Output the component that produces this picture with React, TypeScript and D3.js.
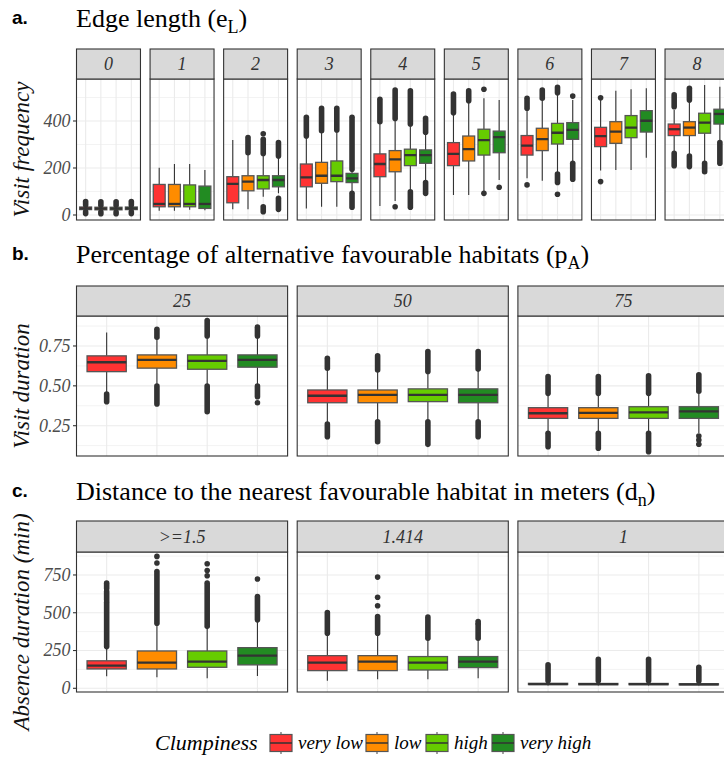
import React from "react";
import * as d3 from "d3";

// ---------- DATA ----------
const clumpiness = ["very low", "low", "high", "very high"];
const fills = ["#FF3333", "#FF8C00", "#66CC00", "#228B22"];

// Panel a: Edge length (e_L) -> Visit frequency
const edgeFacets = ["0", "1", "2", "3", "4", "5", "6", "7", "8"];
// [lower whisker, q1, median, q3, upper whisker] per clumpiness level
const edgeStats: number[][][] = [
  [[16, 23, 28, 34, 40], [15, 22, 27, 33, 39], [15, 22, 27, 33, 39], [16, 23, 28, 34, 40]],
  [[18, 35, 47, 130, 201], [18, 35, 47, 130, 217], [22, 35, 47, 128, 217], [20, 28, 47, 123, 191]],
  [[24, 52, 132, 163, 319], [24, 103, 142, 167, 258], [78, 111, 149, 167, 252], [92, 120, 149, 167, 245]],
  [[28, 120, 160, 217, 330], [35, 135, 167, 224, 355], [35, 142, 167, 230, 358], [99, 138, 156, 177, 190]],
  [[38, 163, 217, 260, 390], [60, 184, 237, 274, 405], [103, 210, 255, 280, 382], [142, 220, 255, 277, 345]],
  [[85, 210, 260, 308, 430], [85, 230, 280, 336, 480], [99, 255, 319, 365, 497], [149, 265, 331, 357, 489]],
  [[156, 255, 295, 338, 450], [146, 274, 323, 369, 490], [180, 302, 350, 390, 515], [227, 322, 362, 393, 489]],
  [[189, 291, 336, 373, 489], [191, 305, 355, 397, 529], [191, 329, 372, 423, 535], [244, 353, 401, 444, 539]],
  [[270, 338, 365, 387, 447], [260, 338, 372, 397, 480], [227, 348, 393, 433, 553], [312, 387, 430, 450, 546]],
];
// dense runs of outliers [from, to]; a single point has from == to
const edgeOutliers: number[][][][] = [
  [[[42, 57], [6, 14]], [[41, 56], [5, 13]], [[41, 56], [5, 13]], [[42, 57], [6, 14]]],
  [[], [], [], []],
  [[], [[265, 330]], [[262, 322], [346, 346], [14, 35]], [[251, 308], [24, 71]]],
  [[[336, 416]], [[359, 454]], [[362, 454]], [[195, 416], [33, 92]]],
  [[[397, 492]], [[411, 532], [35, 35]], [[387, 529], [33, 99]], [[352, 411], [92, 138]]],
  [[[435, 515]], [[486, 529]], [[535, 535], [92, 92]], [[118, 118]]],
  [[[454, 497], [128, 128]], [[497, 532]], [[520, 543], [138, 174], [88, 88]], [[506, 506], [152, 220]]],
  [[[499, 499], [142, 142]], [], [], []],
  [[[461, 511], [210, 262]], [[489, 539], [206, 251]], [[184, 220]], [[220, 308]]],
];
const edgeTicks = [0, 200, 400];
const edgeMinor = [100, 300, 500];

// Panel b: Percentage of alternative favourable habitats (p_A) -> Visit duration
const paFacets = ["25", "50", "75"];
const paStats: number[][][] = [
  [[0.453, 0.589, 0.648, 0.688, 0.834], [0.506, 0.611, 0.663, 0.694, 0.8], [0.506, 0.604, 0.656, 0.694, 0.8], [0.506, 0.617, 0.663, 0.694, 0.8]],
  [[0.269, 0.394, 0.438, 0.474, 0.6], [0.281, 0.394, 0.443, 0.474, 0.59], [0.281, 0.401, 0.443, 0.481, 0.585], [0.285, 0.394, 0.443, 0.481, 0.595]],
  [[0.212, 0.296, 0.328, 0.363, 0.445], [0.212, 0.296, 0.33, 0.363, 0.445], [0.212, 0.296, 0.334, 0.369, 0.445], [0.205, 0.296, 0.34, 0.369, 0.455]],
];
const paOutliers: number[][][][] = [
  [[[0.401, 0.449]], [[0.805, 0.855], [0.386, 0.499]], [[0.813, 0.909], [0.338, 0.499]], [[0.813, 0.868], [0.432, 0.499], [0.394, 0.394]]],
  [[[0.611, 0.673], [0.181, 0.26]], [[0.6, 0.688], [0.15, 0.275]], [[0.59, 0.715], [0.133, 0.275]], [[0.605, 0.715], [0.181, 0.275]]],
  [[[0.453, 0.558], [0.118, 0.202]], [[0.453, 0.558], [0.109, 0.202]], [[0.453, 0.563], [0.087, 0.202]], [[0.466, 0.569], [0.185, 0.185], [0.16, 0.16], [0.134, 0.134]]],
];
const paTicks = [0.25, 0.5, 0.75];
const paMinor = [0.125, 0.375, 0.625, 0.875];

// Panel c: Distance to nearest favourable habitat (d_n) -> Absence duration (min)
const dnFacets = [">=1.5", "1.414", "1"];
const dnStats: number[][][] = [
  [[80, 128, 150, 182, 265], [73, 128, 170, 247, 426], [66, 139, 176, 247, 408], [82, 155, 216, 269, 442]],
  [[50, 117, 170, 216, 353], [60, 117, 176, 216, 353], [60, 121, 170, 210, 320], [66, 137, 176, 210, 320]],
  [[18, 25, 28, 33, 45], [18, 24, 27, 32, 45], [18, 24, 27, 32, 45], [18, 23, 26, 30, 42]],
];
const dnOutliers: number[][][][] = [
  [[[276, 570], [585, 640], [660, 696]], [[430, 773], [829, 829], [873, 873]], [[410, 696], [745, 745], [780, 780], [824, 824]], [[453, 607], [723, 723]]],
  [[[365, 501]], [[365, 475], [546, 546], [603, 603], [736, 736]], [[331, 471]], [[331, 420], [430, 442]]],
  [[[50, 155]], [[50, 192]], [[50, 192]], [[48, 139]]],
];
const dnTicks = [0, 250, 500, 750];
const dnMinor = [125, 375, 625, 875];

// ---------- LAYOUT ----------
const W = 724;
const H = 758;
const plotLeft = 76.5;
const plotRight = 729;
const gap = 9.6;
const serif = "'Liberation Serif', 'Times New Roman', serif";
const sans = "'Liberation Sans', Arial, sans-serif";

type RowProps = {
  facets: string[];
  stats: number[][][];
  outliers: number[][][][];
  domain: [number, number];
  ticks: number[];
  minor: number[];
  fmt: (v: number) => string;
  stripTop: number;
  stripBottom: number;
  panelBottom: number;
  yTitle: string;
  ptR: number;
};

function FacetRow(p: RowProps) {
  const n = p.facets.length;
  const fw = (plotRight - plotLeft - gap * (n - 1)) / n;
  const y = d3.scaleLinear().domain(p.domain).range([p.panelBottom, p.stripBottom]);
  const x = d3
    .scalePoint<string>()
    .domain(clumpiness)
    .range([0, fw])
    .padding(0.6);
  const step = x.step();
  const bw = step * 0.78;
  const clipBase = "clip-" + p.yTitle.replace(/[^a-z]/gi, "");
  const midY = (p.stripBottom + p.panelBottom) / 2;
  return (
    <g>
      {p.facets.map((f, fi) => {
        const x0 = plotLeft + fi * (fw + gap);
        const cid = clipBase + fi;
        return (
          <g key={f} transform={`translate(${x0},0)`}>
            <clipPath id={cid}>
              <rect x={0} y={p.stripBottom} width={fw} height={p.panelBottom - p.stripBottom} />
            </clipPath>
            <rect x={0} y={p.stripBottom} width={fw} height={p.panelBottom - p.stripBottom} fill="#fff" />
            {p.minor.map((t) => (
              <line key={"m" + t} x1={0} x2={fw} y1={y(t)} y2={y(t)} stroke="#EBEBEB" strokeWidth={0.6} />
            ))}
            {p.ticks.map((t) => (
              <line key={"t" + t} x1={0} x2={fw} y1={y(t)} y2={y(t)} stroke="#EBEBEB" strokeWidth={1.1} />
            ))}
            {clumpiness.map((c) => (
              <line key={"v" + c} x1={x(c)} x2={x(c)} y1={p.stripBottom} y2={p.panelBottom} stroke="#EBEBEB" strokeWidth={1.1} />
            ))}
            <g clipPath={`url(#${cid})`}>
              {clumpiness.map((c, ci) => {
                const s = p.stats[fi][ci];
                const cx = x(c) as number;
                return (
                  <g key={c}>
                    <line x1={cx} x2={cx} y1={y(s[0])} y2={y(s[1])} stroke="#333" strokeWidth={1.1} />
                    <line x1={cx} x2={cx} y1={y(s[3])} y2={y(s[4])} stroke="#333" strokeWidth={1.1} />
                    <rect
                      x={cx - bw / 2}
                      y={y(s[3])}
                      width={bw}
                      height={Math.max(0.5, y(s[1]) - y(s[3]))}
                      fill={fills[ci]}
                      stroke="#555"
                      strokeWidth={1.3}
                    />
                    <line x1={cx - bw / 2} x2={cx + bw / 2} y1={y(s[2])} y2={y(s[2])} stroke="#333" strokeWidth={2.3} />
                    {p.outliers[fi][ci].map((o, oi) =>
                      o[0] === o[1] ? (
                        <circle key={oi} cx={cx} cy={y(o[0])} r={p.ptR} fill="#333" />
                      ) : (
                        <line
                          key={oi}
                          x1={cx}
                          x2={cx}
                          y1={y(o[0])}
                          y2={y(o[1])}
                          stroke="#333"
                          strokeWidth={p.ptR * 2}
                          strokeLinecap="round"
                        />
                      )
                    )}
                  </g>
                );
              })}
            </g>
            <rect
              x={0}
              y={p.stripBottom}
              width={fw}
              height={p.panelBottom - p.stripBottom}
              fill="none"
              stroke="#333"
              strokeWidth={1.1}
            />
            <rect
              x={0}
              y={p.stripTop}
              width={fw}
              height={p.stripBottom - p.stripTop}
              fill="#D9D9D9"
              stroke="#333"
              strokeWidth={1.1}
            />
            <text
              x={fw / 2}
              y={(p.stripTop + p.stripBottom) / 2 + 6}
              textAnchor="middle"
              fontFamily={serif}
              fontStyle="italic"
              fontSize={18}
              fill="#333"
            >
              {f}
            </text>
          </g>
        );
      })}
      {p.ticks.map((t) => (
        <g key={"yl" + t}>
          <line x1={plotLeft - 3.5} x2={plotLeft} y1={y(t)} y2={y(t)} stroke="#333" strokeWidth={1.1} />
          <text
            x={plotLeft - 6}
            y={y(t) + 5.8}
            textAnchor="end"
            fontFamily={serif}
            fontStyle="italic"
            fontSize={18}
            fill="#4D4D4D"
          >
            {p.fmt(t)}
          </text>
        </g>
      ))}
      <text
        transform={`translate(29,${midY}) rotate(-90)`}
        textAnchor="middle"
        fontFamily={serif}
        fontStyle="italic"
        fontSize={23}
        fill="#111"
      >
        {p.yTitle}
      </text>
    </g>
  );
}

function SectionTitle({ letter, y, main, sub }: { letter: string; y: number; main: string; sub: string }) {
  return (
    <g>
      <text x={12} y={y - 3} fontFamily={sans} fontWeight="bold" fontSize={19} fill="#000">
        {letter}
      </text>
      <text x={76} y={y} fontFamily={serif} fontSize={26} fill="#000">
        {main}
        <tspan fontSize={18} dy={6}>
          {sub}
        </tspan>
        <tspan dy={-6}>)</tspan>
      </text>
    </g>
  );
}

function Legend() {
  const keyX = [270, 366, 426, 492];
  const cy = 743;
  return (
    <g>
      <text x={155} y={750} fontFamily={serif} fontStyle="italic" fontSize={22} fill="#000">
        Clumpiness
      </text>
      {clumpiness.map((c, i) => (
        <g key={c}>
          <line x1={keyX[i] + 11} x2={keyX[i] + 11} y1={cy - 11} y2={cy + 11} stroke="#555" strokeWidth={1.1} />
          <rect x={keyX[i]} y={cy - 8.5} width={22} height={17} fill={fills[i]} stroke="#555" strokeWidth={1.2} />
          <line x1={keyX[i]} x2={keyX[i] + 22} y1={cy} y2={cy} stroke="#333" strokeWidth={1.5} />
          <text x={keyX[i] + 28} y={749} fontFamily={serif} fontStyle="italic" fontSize={19} fill="#000">
            {c}
          </text>
        </g>
      ))}
    </g>
  );
}

export default function App() {
  return (
    <svg
      width={W}
      height={H}
      viewBox={`0 0 ${W} ${H}`}
      style={{ position: "absolute", left: 0, top: 0, background: "#fff" }}
    >
      <rect x={0} y={0} width={W} height={H} fill="#fff" />
      <SectionTitle letter="a." y={27} main="Edge length (e" sub="L" />
      <FacetRow
        facets={edgeFacets}
        stats={edgeStats}
        outliers={edgeOutliers}
        domain={[-21.3, 578.7]}
        ticks={edgeTicks}
        minor={edgeMinor}
        fmt={(v) => String(v)}
        stripTop={49}
        stripBottom={79}
        panelBottom={220}
        yTitle="Visit frequency"
        ptR={2.8}
      />
      <SectionTitle letter="b." y={263} main="Percentage of alternative favourable habitats (p" sub="A" />
      <FacetRow
        facets={paFacets}
        stats={paStats}
        outliers={paOutliers}
        domain={[0.06, 0.938]}
        ticks={paTicks}
        minor={paMinor}
        fmt={(v) => d3.format(".2f")(v)}
        stripTop={286}
        stripBottom={316}
        panelBottom={456}
        yTitle="Visit duration"
        ptR={2.8}
      />
      <SectionTitle letter="c." y={500} main="Distance to the nearest favourable habitat in meters (d" sub="n" />
      <FacetRow
        facets={dnFacets}
        stats={dnStats}
        outliers={dnOutliers}
        domain={[-24.5, 902]}
        ticks={dnTicks}
        minor={dnMinor}
        fmt={(v) => String(v)}
        stripTop={521}
        stripBottom={552}
        panelBottom={692}
        yTitle="Absence duration (min)"
        ptR={2.8}
      />
      <Legend />
    </svg>
  );
}
